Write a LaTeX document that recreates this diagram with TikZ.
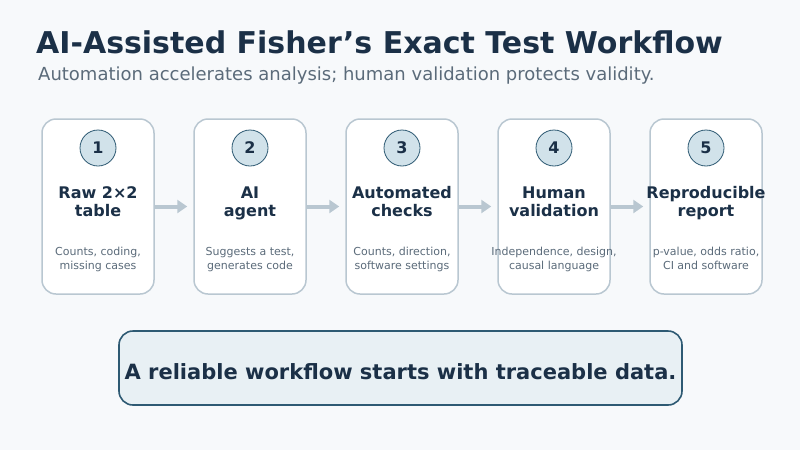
\documentclass[tikz,border=0pt]{standalone}
\usepackage{fontspec}
\setmainfont{DejaVu Sans}
\usetikzlibrary{arrows.meta,positioning}
\definecolor{pagebg}{HTML}{F7F9FB}
\definecolor{ink}{HTML}{1B3047}
\definecolor{muted}{HTML}{5B6B7A}
\definecolor{edge}{HTML}{B9C7D1}
\definecolor{badgefill}{HTML}{D1E2EA}
\definecolor{deep}{HTML}{2E5A73}
\definecolor{bannerfill}{HTML}{E8F0F4}

\begin{document}
\begin{tikzpicture}[x=1pt,y=-1pt]
  \tikzset{
    title/.style={font=\fontsize{30}{36}\selectfont\bfseries,text=ink,anchor=base west,inner sep=0pt},
    subtitle/.style={font=\fontsize{18}{22}\selectfont,text=muted,anchor=base west,inner sep=0pt},
    card/.style={draw=edge,line width=1.5pt,fill=white,rounded corners=14pt,
      minimum width=112pt,minimum height=175pt,inner sep=0pt},
    badge/.style={circle,draw=deep,line width=0.8pt,fill=badgefill,minimum size=36pt,
      inner sep=0pt,text=ink,font=\fontsize{16}{18}\selectfont\bfseries},
    head/.style={align=center,text=ink,inner sep=0pt,anchor=base,
      font=\fontsize{16}{18}\selectfont\bfseries},
    note/.style={align=center,text=muted,inner sep=0pt,anchor=base,
      font=\fontsize{11}{14}\selectfont},
    flow/.style={draw=edge,line width=4pt,-{Triangle[length=10pt,width=13pt]},shorten >=6pt},
    banner/.style={draw=deep,line width=1.6pt,fill=bannerfill,rounded corners=14pt,
      minimum width=563pt,minimum height=74pt,text height=22pt,text depth=0pt,
      text=ink,font=\fontsize{21}{25}\selectfont\bfseries}
  }

  % Page and headline.
  \fill[pagebg] (0,0) rectangle (800,450);
  \useasboundingbox (0,0) rectangle (800,450);
  \node[title] (head) at (36,53) {AI-Assisted Fisher’s Exact Test Workflow};
  \node[subtitle] (sub) at (38,80) {Automation accelerates analysis; human validation protects validity.};

  % Five workflow steps.
  \foreach \i/\x/\step/\desc in {
      1/98/{Raw 2×2\\table}/{Counts, coding,\\missing cases},
      2/250/{AI\\agent}/{Suggests a test,\\generates code},
      3/402/{Automated\\checks}/{Counts, direction,\\software settings},
      4/554/{Human\\validation}/{Independence, design,\\causal language},
      5/706/{Reproducible\\report}/{p-value, odds ratio,\\CI and software}} {
    \node[card] (c\i) at (\x,206.5) {};
    \node[badge] (b\i) at (\x,148) {\i};
    \node[head] (h\i) at (\x,216) {\step};
    \node[note] (n\i) at (\x,269.5) {\desc};
  }
  \foreach \i/\j in {1/2,2/3,3/4,4/5}
    \draw[flow] (c\i.east) -- (c\j.west);

  % Closing message.
  \node[banner] (msg) at (400.5,368) {A reliable workflow starts with traceable data.};
\end{tikzpicture}
\end{document}
